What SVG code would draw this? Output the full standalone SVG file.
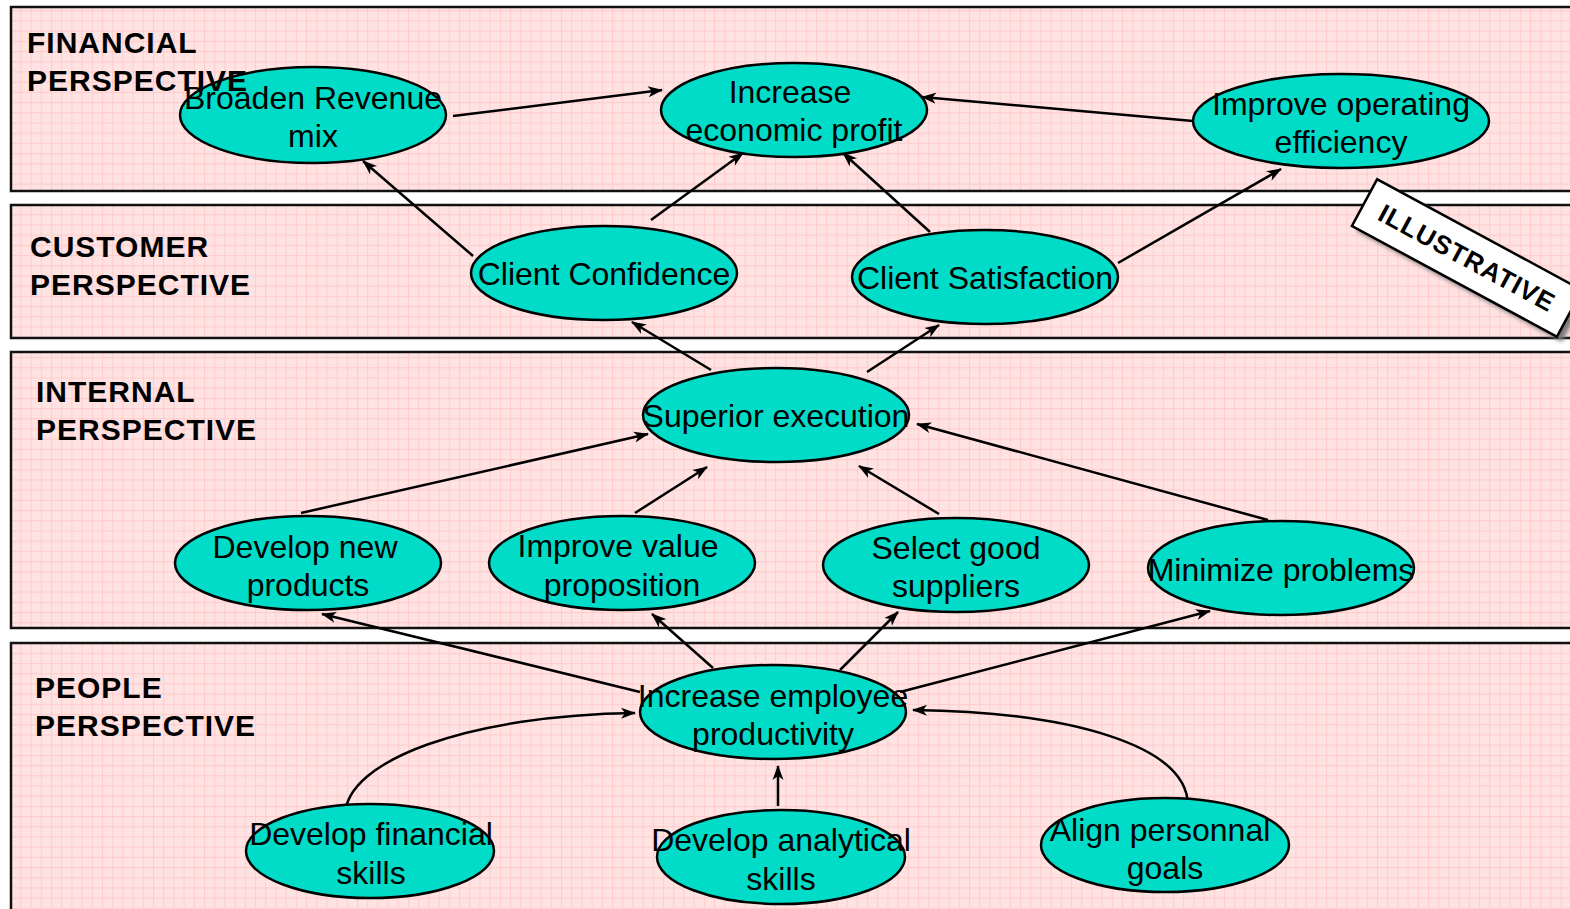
<svg xmlns="http://www.w3.org/2000/svg" width="1570" height="909" viewBox="0 0 1570 909">
<style>
.band{fill:url(#grid);stroke:#111;stroke-width:2.5}
.node ellipse{fill:#00DCC8;stroke:#000;stroke-width:2.5}
.node text{font-family:"Liberation Sans",Arial,sans-serif;font-size:32px;fill:#000;text-anchor:middle}
.hdr{font-family:"Liberation Sans",Arial,sans-serif;font-size:30px;font-weight:bold;letter-spacing:1px;fill:#000}
.conn path{fill:none;stroke:#000;stroke-width:2.5;marker-end:url(#arr)}
</style>
<defs>
<pattern id="grid" width="10.2" height="10.2" patternUnits="userSpaceOnUse">
<rect width="10.2" height="10.2" fill="#FFE3E3"/>
<path d="M0,0.5 H10.2 M0.5,0 V10.2" stroke="#FFCCCC" stroke-width="1.1" fill="none"/>
</pattern>
<marker id="arr" markerWidth="16" markerHeight="12" refX="14" refY="6" orient="auto" markerUnits="userSpaceOnUse">
<path d="M0,0.5 L15,6 L0,11.5 L4,6 z" fill="#000"/>
</marker>
<filter id="blur"><feGaussianBlur stdDeviation="2"/></filter>
</defs>
<rect width="1570" height="909" fill="#fff"/>
<g id="bands">
<rect class="band" x="11" y="7" width="1600" height="184"/>
<rect class="band" x="11" y="205" width="1600" height="133"/>
<rect class="band" x="11" y="352" width="1600" height="276"/>
<rect class="band" x="11" y="643" width="1600" height="300"/>
</g>
<g class="conn" id="connectors">
<path d="M453,116 L662,90"/>
<path d="M1193,121 L922,97"/>
<path d="M473,256 L363,161"/>
<path d="M651,220 L743,153"/>
<path d="M930,232 L843,153"/>
<path d="M1118,263 L1281,169"/>
<path d="M711,370 L632,322"/>
<path d="M867,372 L939,325"/>
<path d="M301,513 L648,434"/>
<path d="M635,513 L707,467"/>
<path d="M939,514 L859,466"/>
<path d="M1268,520 L917,424"/>
<path d="M640,692 L322,614"/>
<path d="M713,668 L652,614"/>
<path d="M840,670 L898,612"/>
<path d="M900,692 L1210,611"/>
<path d="M345,816 C345,760 470,715 635,713"/>
<path d="M778,806 L778,766"/>
<path d="M1188,806 C1188,745 1070,712 913,710"/>
</g>
<g id="n_broaden" class="node"><ellipse cx="313" cy="115" rx="133" ry="48"/><text x="313" y="109">Broaden Revenue</text><text x="313" y="147">mix</text></g>
<g id="n_profit" class="node"><ellipse cx="794" cy="110" rx="133" ry="47"/><text x="790" y="103">Increase</text><text x="794" y="141">economic profit</text></g>
<g id="n_efficiency" class="node"><ellipse cx="1341" cy="121" rx="148" ry="47"/><text x="1341" y="115">Improve operating</text><text x="1341" y="153">efficiency</text></g>
<g id="n_confidence" class="node"><ellipse cx="604" cy="273" rx="133" ry="47"/><text x="604" y="285">Client Confidence</text></g>
<g id="n_satisfaction" class="node"><ellipse cx="985" cy="277" rx="133" ry="47"/><text x="985" y="289">Client Satisfaction</text></g>
<g id="n_superior" class="node"><ellipse cx="776" cy="415" rx="133" ry="47"/><text x="776" y="427">Superior execution</text></g>
<g id="n_newprod" class="node"><ellipse cx="308" cy="563" rx="133" ry="47"/><text x="305" y="558">Develop new</text><text x="308" y="596">products</text></g>
<g id="n_value" class="node"><ellipse cx="622" cy="563" rx="133" ry="47"/><text x="618" y="557">Improve value</text><text x="622" y="596">proposition</text></g>
<g id="n_suppliers" class="node"><ellipse cx="956" cy="565" rx="133" ry="47"/><text x="956" y="559">Select good</text><text x="956" y="597">suppliers</text></g>
<g id="n_problems" class="node"><ellipse cx="1281" cy="568" rx="133" ry="47"/><text x="1281" y="581">Minimize problems</text></g>
<g id="n_productivity" class="node"><ellipse cx="773" cy="712" rx="133" ry="47"/><text x="773" y="707">Increase employee</text><text x="773" y="745">productivity</text></g>
<g id="n_financial" class="node"><ellipse cx="370" cy="851" rx="124" ry="47"/><text x="371" y="845">Develop financial</text><text x="371" y="884">skills</text></g>
<g id="n_analytical" class="node"><ellipse cx="781" cy="857" rx="124" ry="47"/><text x="781" y="851">Develop analytical</text><text x="781" y="890">skills</text></g>
<g id="n_goals" class="node"><ellipse cx="1165" cy="845" rx="124" ry="47"/><text x="1160" y="841">Align personnal</text><text x="1165" y="879">goals</text></g>
<g id="headers">
<text class="hdr" x="27" y="53">FINANCIAL</text>
<text class="hdr" x="27" y="91">PERSPECTIVE</text>
<text class="hdr" x="30" y="257">CUSTOMER</text>
<text class="hdr" x="30" y="295">PERSPECTIVE</text>
<text class="hdr" x="36" y="402">INTERNAL</text>
<text class="hdr" x="36" y="440">PERSPECTIVE</text>
<text class="hdr" x="35" y="698">PEOPLE</text>
<text class="hdr" x="35" y="736">PERSPECTIVE</text>
</g>
<g id="stamp">
<g transform="translate(1472,263) rotate(28.4)"><rect x="-116.5" y="-26.5" width="233" height="53" fill="#777" filter="url(#blur)"/></g>
<g transform="translate(1467,258) rotate(28.4)">
<rect x="-116.5" y="-26.5" width="233" height="53" fill="#fff" stroke="#000" stroke-width="2.5"/>
<text x="0" y="9" text-anchor="middle" font-family="'Liberation Sans',Arial,sans-serif" font-size="26" font-weight="bold" letter-spacing="1">ILLUSTRATIVE</text>
</g>
</g>
</svg>
